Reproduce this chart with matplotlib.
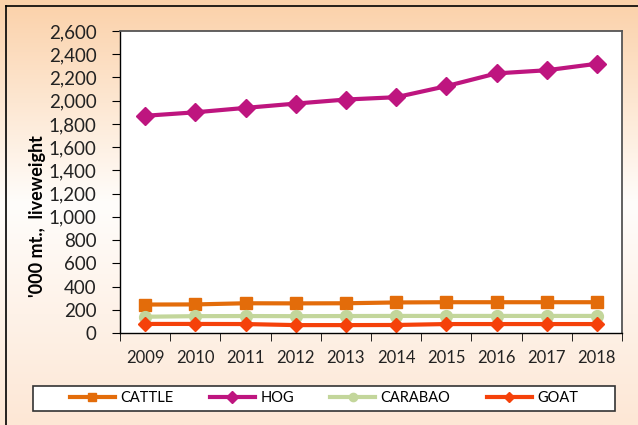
import matplotlib
matplotlib.use("Agg")
import matplotlib.pyplot as plt
import numpy as np
from matplotlib.colors import LinearSegmentedColormap
from matplotlib.patches import Rectangle

years = ["2009", "2010", "2011", "2012", "2013", "2014", "2015", "2016", "2017", "2018"]
cattle = [245, 246, 256, 255, 256, 263, 265, 265, 265, 265]
hog = [1870, 1900, 1938, 1975, 2010, 2030, 2125, 2235, 2262, 2318]
carabao = [140, 145, 146, 145, 146, 147, 147, 147, 147, 147]
goat = [78, 78, 77, 68, 68, 69, 77, 77, 77, 77]
yticks = list(range(0, 2601, 200))

plt.rcParams['font.family'] = ['Lato', 'DejaVu Sans']

fig = plt.figure(figsize=(6.38, 4.25), dpi=100)
W, H = 638, 425

# gradient background
bg = fig.add_axes([0, 0, 1, 1], zorder=-10)
cmap = LinearSegmentedColormap.from_list("bg", [(0.0, "#FDE7D5"), (0.52, "#FFFDFB"), (1.0, "#FBD1A9")])
grad = np.linspace(0, 1, 256).reshape(-1, 1)
bg.imshow(grad, aspect='auto', cmap=cmap, origin='lower', extent=[0, 1, 0, 1])
bg.set_xlim(0, 1); bg.set_ylim(0, 1)
bg.axis('off')
bg.plot([6/W, 6/W], [0, 1 - 6/H], color='black', lw=1.2)
bg.plot([6/W, 1], [1 - 6/H, 1 - 6/H], color='black', lw=1.2)
# legend box
bg.add_patch(Rectangle((33/W, 1 - 411/H), (615 - 33)/W, 25/H, facecolor='white',
                       edgecolor='#333333', lw=1.2, zorder=5))

left, right, top, bottom = 120, 622, 31, 333
ax = fig.add_axes([left / W, 1 - bottom / H, (right - left) / W, (bottom - top) / H])
ax.set_facecolor('white')

x = np.arange(len(years))
lw = 3
ax.plot(x, cattle, color='#E36C0A', lw=lw, marker='s', ms=9, label='CATTLE')
ax.plot(x, hog, color='#BE157F', lw=lw, marker='D', ms=9, label='HOG')
ax.plot(x, carabao, color='#C3D69B', lw=lw, marker='o', ms=8.5, label='CARABAO')
ax.plot(x, goat, color='#F5410A', lw=lw, marker='D', ms=7.5, label='GOAT')

ax.set_xlim(-0.5, len(years) - 0.5)
ax.set_ylim(0, 2600)
ax.set_yticks(yticks)
ax.set_yticklabels([f"{v:,}" for v in yticks], fontsize=13.5, color='#222222')
ax.set_xticks(x)
ax.set_xticklabels(years, fontsize=12, color='#222222')
ax.set_xticks(np.arange(-0.5, len(years), 1), minor=True)
ax.tick_params(axis='x', which='major', length=0, pad=12)
ax.tick_params(axis='x', which='minor', length=6, direction='out', color='black')
ax.tick_params(axis='y', length=6, direction='out', color='black', pad=11)

for s in ['left', 'bottom']:
    ax.spines[s].set_color('black')
    ax.spines[s].set_linewidth(1.0)
for s in ['top', 'right']:
    ax.spines[s].set_color('#555555')
    ax.spines[s].set_linewidth(1.3)

fig.text(38 / W, 1 - 216 / H, "'000 mt.,  liveweight", rotation=90, ha='center', va='center',
         fontsize=13, fontweight='bold', color='black')

leg = fig.legend(loc='center', bbox_to_anchor=(324 / W, 1 - 398.5 / H),
                 ncol=4, fontsize=10.5, frameon=False, markerscale=0.7,
                 handlelength=3.1, columnspacing=2.5, handletextpad=0.35)
leg.set_zorder(10)

fig.savefig('out.png', dpi=100)
